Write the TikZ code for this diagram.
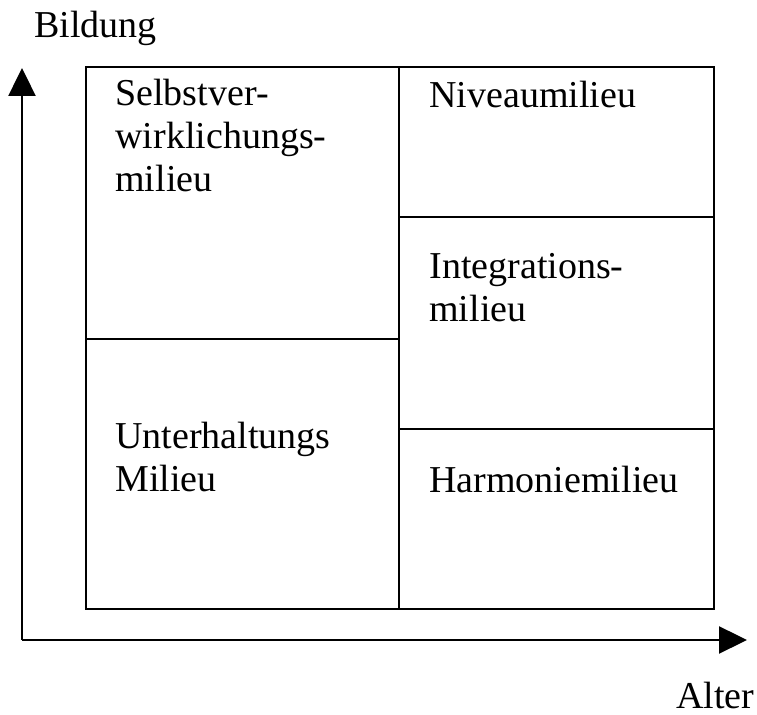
\documentclass[tikz,border=0pt]{standalone}
\usepackage{fontspec}
\setmainfont{Liberation Serif}
\usetikzlibrary{
    positioning,
    arrows.meta
}
\tikzset{
    >={Triangle[length=14pt,width=13.5pt]},
    feld/.style={
        line width=1.2pt
    },
    milieu/.style={
        anchor=base west,
        inner sep=0pt,
        align=left,
        font=\fontsize{19pt}{21.5pt}\selectfont
    }
}

\begin{document}
\begin{tikzpicture}[
    x=0.5pt,
    y=-0.5pt
]

    \useasboundingbox (0,0) rectangle (757,715);

    % Achsen
    \coordinate (o)  at (22,640);
    \coordinate (yt) at (22,68);
    \coordinate (xt) at (747,640);
    \draw[feld, ->] (o) -- (yt);
    \draw[feld, ->] (o) -- (xt);
    \node[milieu] (bildung) at (34,38)   {Bildung};
    \node[milieu] (alter)   at (676,709) {Alter};

    % Felder
    \draw[feld] (86,67) rectangle (714,609);
    \draw[feld] (399,67) -- (399,609);
    \draw[feld] (86,339) -- (399,339);
    \draw[feld] (399,217) -- (714,217);
    \draw[feld] (399,429) -- (714,429);

    % Milieus (base = letzte Zeile)
    \node[milieu] (selbst) at (115,192) {Selbstver-\\wirklichungs-\\milieu};
    \node[milieu] (niveau) at (429,108) {Niveaumilieu};
    \node[milieu] (integ)  at (429,322) {Integrations-\\milieu};
    \node[milieu] (unter)  at (115,492) {Unterhaltungs\\Milieu};
    \node[milieu] (harm)   at (429,493) {Harmoniemilieu};

\end{tikzpicture}
\end{document}
